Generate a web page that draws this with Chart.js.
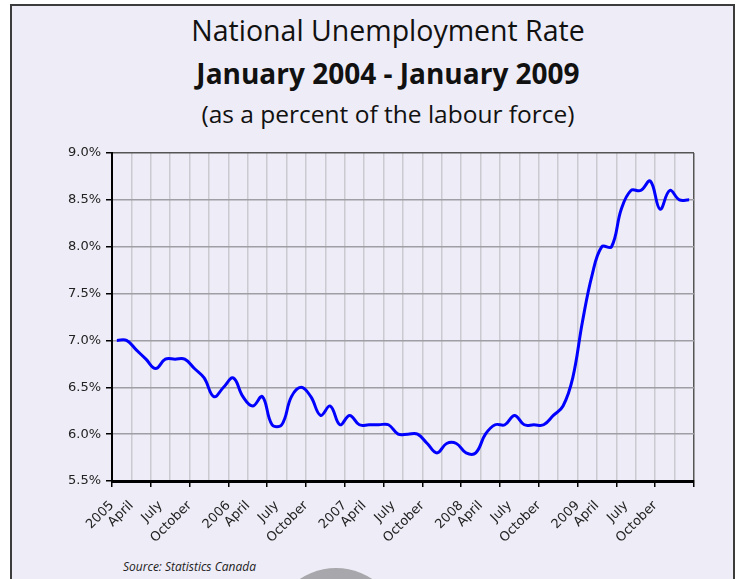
<!DOCTYPE html>
<html>
<head>
<meta charset="utf-8">
<title>National Unemployment Rate</title>
<script src="https://cdn.jsdelivr.net/npm/chart.js@4.4.0/dist/chart.umd.min.js"></script>
<style>
  body { margin: 0; width: 742px; height: 579px; overflow: hidden; position: relative; background: #fff; }
  #frame { position: absolute; left: 10px; top: 4px; width: 725px; height: 660px; box-sizing: border-box;
           background: #EEECF6; border: 2px solid #3c3c3c; }
  .head { position: absolute; left: 88px; width: 600px; text-align: center; color: #111;
          font-family: "Open Sans", sans-serif; white-space: nowrap; }
  #t1 { top: 12px; font-size: 28.5px; line-height: 36px; }
  #t2 { top: 55px; font-size: 28px; line-height: 36px; font-weight: bold; }
  #t3 { top: 97px; font-size: 24.5px; line-height: 34px; }
  #source { position: absolute; left: 123px; top: 558px; font: italic 12px "Open Sans", sans-serif; color: #222; }
  #knob { position: absolute; left: 271px; top: 568px; width: 130px; height: 130px; border-radius: 50%; background: #A8A8AC; }
  canvas { position: absolute; left: 0; top: 0; }
</style>
</head>
<body>
<div id="frame"></div>
<div class="head" id="t1">National Unemployment Rate</div>
<div class="head" id="t2">January 2004 - January 2009</div>
<div class="head" id="t3">(as a percent of the labour force)</div>
<div id="source">Source: Statistics Canada</div>
<div id="knob"></div>
<canvas id="rate" width="742" height="579"></canvas>
<script>
// monthly rate, January 2005 to December 2009 (percent)
const rates = [
  7.0, 7.0, 6.9, 6.8, 6.7, 6.8, 6.8, 6.8, 6.7, 6.6, 6.4, 6.5,
  6.6, 6.4, 6.3, 6.4, 6.1, 6.1, 6.4, 6.5, 6.4, 6.2, 6.3, 6.1,
  6.2, 6.1, 6.1, 6.1, 6.1, 6.0, 6.0, 6.0, 5.9, 5.8, 5.9, 5.9,
  5.8, 5.8, 6.0, 6.1, 6.1, 6.2, 6.1, 6.1, 6.1, 6.2, 6.3, 6.6,
  7.2, 7.7, 8.0, 8.0, 8.4, 8.6, 8.6, 8.7, 8.4, 8.6, 8.5, 8.5
];

// axis labels and the month they sit at (months counted from January 2005)
const tickLabels = [
  "2005", "April", "July", "October",
  "2006", "April", "July", "October",
  "2007", "April", "July", "October",
  "2008", "April", "July", "October",
  "2009", "April", "July", "October"
];
const labelMonths = [
  0, 2, 5, 8,
  12, 14, 17, 20,
  24, 26, 29, 32,
  36, 38, 41, 44,
  48, 50, 53, 56
];

const yTicks = [5.5, 6.0, 6.5, 7.0, 7.5, 8.0, 8.5, 9.0];

Chart.defaults.font.family = "DejaVu Sans";
Chart.defaults.color = "#222";

const points = rates.map((v, i) => ({ x: i + 0.5, y: v }));

const config = {
  type: 'line',
  data: {
    datasets: [{
      data: points,
      borderColor: '#0000FF',
      borderWidth: 3,
      pointRadius: 0,
      tension: 0.4,
      fill: false,
    }]
  },
  options: {
    responsive: false,
    animation: false,
    layout: { padding: { top: 153, right: 48, left: 0, bottom: 32 } },
    plugins: {
      legend: { display: false },
      tooltip: { enabled: false },
    },
    scales: {
      x: {
        type: 'linear',
        min: 0,
        max: 60,
        position: 'bottom',
        weight: 0,
        ticks: { display: false, stepSize: 2 },
        grid: {
          color: c => (c.tick && c.tick.value === 60) ? '#555' : '#CACAD0',
          lineWidth: 1.5,
          tickLength: 6,
          tickWidth: 1.5,
          tickColor: c => (c.tick && c.tick.value % 4 === 0) ? '#000' : 'rgba(0,0,0,0)',
        },
        border: { color: '#000', width: 3 },
        afterFit: s => { s.height = 6; },
      },
      x2: {
        type: 'linear',
        min: 0,
        max: 60,
        position: 'bottom',
        weight: 1,
        grid: { display: false, drawTicks: false },
        border: { display: false },
        afterBuildTicks: s => { s.ticks = labelMonths.map(v => ({ value: v })); },
        ticks: {
          autoSkip: false,
          minRotation: 45,
          maxRotation: 45,
          padding: 11,
          font: { size: 13 },
          callback: (v, i) => tickLabels[i],
        },
        afterFit: s => { s.height = 60; },
      },
      y: {
        min: 5.5,
        max: 9.0,
        position: 'left',
        afterBuildTicks: s => { s.ticks = yTicks.map(v => ({ value: v })); },
        ticks: {
          padding: 5,
          font: { size: 13 },
          callback: v => v.toFixed(1) + '%',
        },
        grid: {
          color: c => (c.tick && c.tick.value === 9) ? '#555' : '#9E9EA4',
          lineWidth: 1.5,
          tickLength: 6,
          tickColor: '#000',
        },
        border: { color: '#000', width: 2 },
        afterFit: s => { s.width = 112; },
      },
    },
  },
};

const rateChart = new Chart(document.getElementById('rate').getContext('2d'), config);
</script>
</body>
</html>
